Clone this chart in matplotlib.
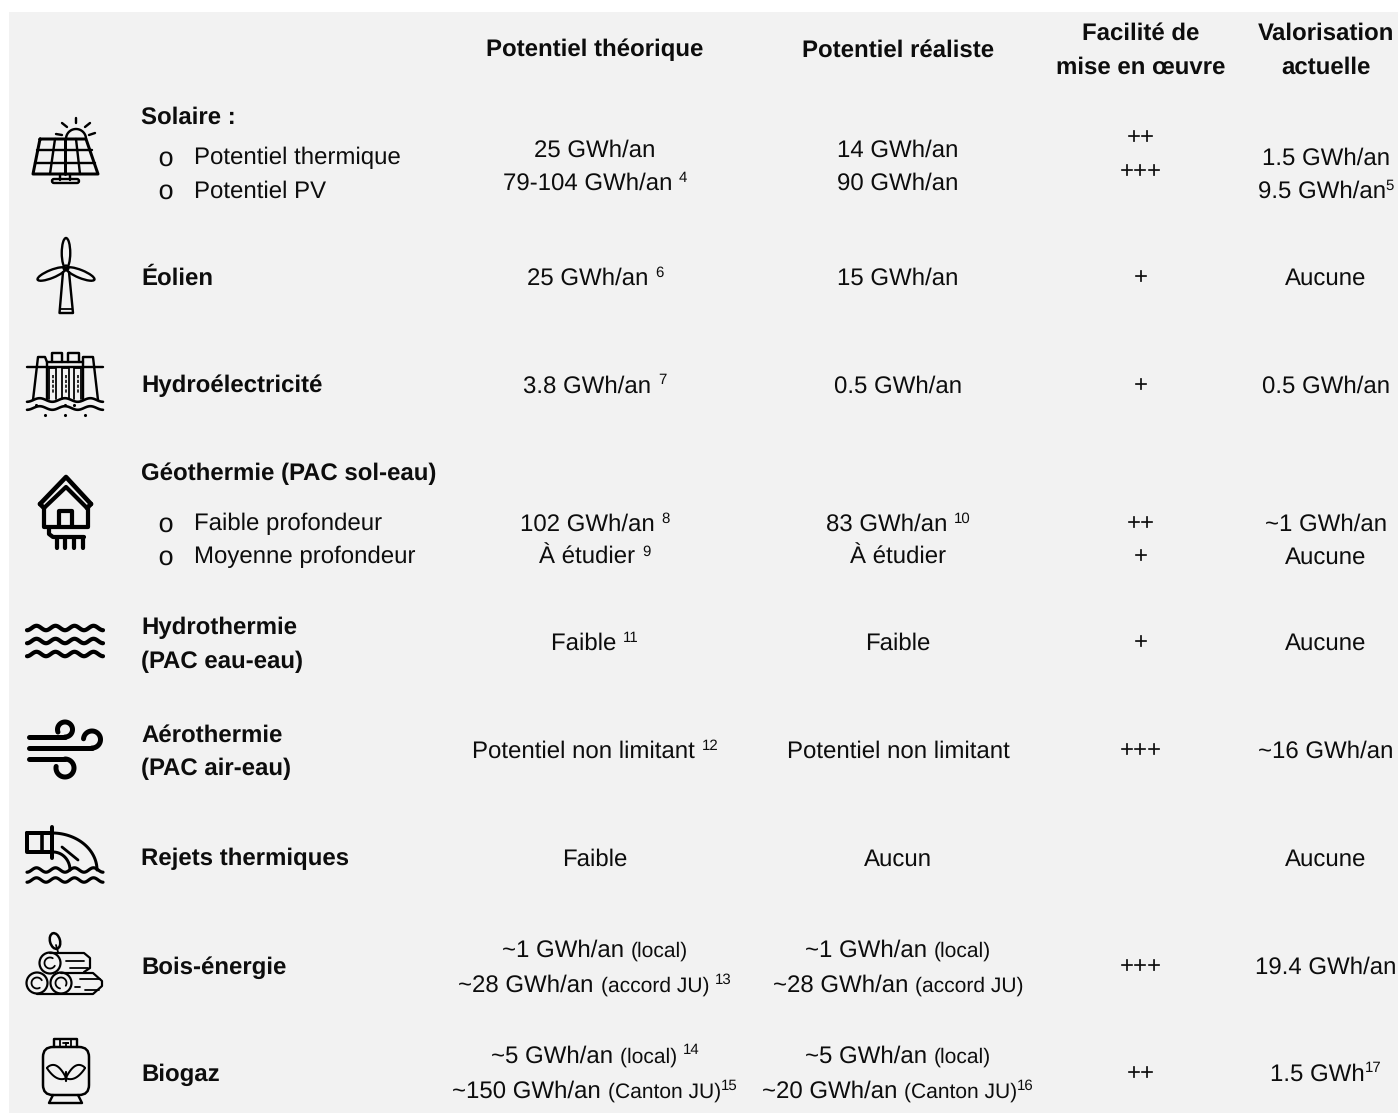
import numpy as np
import matplotlib
matplotlib.use('Agg')
import matplotlib.pyplot as plt
from matplotlib.patches import FancyBboxPatch, Circle, Ellipse

plt.rcParams['font.family'] = ['Liberation Sans', 'DejaVu Sans']
plt.rcParams['text.hinting'] = 'no_hinting'
plt.rcParams['text.hinting_factor'] = 1

W, H = 1399, 1113
BG = '#f2f2f2'
FG = '#0d0d0d'
BODY = 24   # px
SMALL = 21.5
SUP = 15

headers = ['Potentiel théorique', 'Potentiel réaliste',
           'Facilité de\nmise en œuvre', 'Valorisation\nactuelle']
col_x = [595, 898, 1141, 1326]

# name labels: text, y
names = [('Solaire :', 115), ('Éolien', 276), ('Hydroélectricité', 384),
         ('Géothermie (PAC sol-eau)', 472), ('Hydrothermie', 626), ('(PAC eau-eau)', 660),
         ('Aérothermie', 733), ('(PAC air-eau)', 767), ('Rejets thermiques', 857),
         ('Bois-énergie', 965), ('Biogaz', 1072)]
subitems = [('Potentiel thermique', 156), ('Potentiel PV', 189),
            ('Faible profondeur', 522), ('Moyenne profondeur', 555)]

# each cell: y, then pieces of (text, kind)
potentiel_theorique = [
    (148, [('25 GWh/an', 'n')]),
    (181, [('79-104 GWh/an ', 'n'), ('4', 's')]),
    (276, [('25 GWh/an ', 'n'), ('6', 's')]),
    (384, [('3.8 GWh/an ', 'n'), ('7', 's')]),
    (522, [('102 GWh/an ', 'n'), ('8', 's')]),
    (555, [('À étudier ', 'n'), ('9', 's')]),
    (641, [('Faible ', 'n'), ('11', 's')]),
    (749, [('Potentiel non limitant ', 'n'), ('12', 's')]),
    (857, [('Faible', 'n')]),
    (948, [('~1 GWh/an ', 'n'), ('(local)', 'p')]),
    (983, [('~28 GWh/an ', 'n'), ('(accord JU) ', 'p'), ('13', 's')]),
    (1054, [('~5 GWh/an ', 'n'), ('(local) ', 'p'), ('14', 's')]),
    (1089, [('~150 GWh/an ', 'n'), ('(Canton JU)', 'p'), ('15', 's')]),
]
potentiel_realiste = [
    (148, [('14 GWh/an', 'n')]),
    (181, [('90 GWh/an', 'n')]),
    (276, [('15 GWh/an', 'n')]),
    (384, [('0.5 GWh/an', 'n')]),
    (522, [('83 GWh/an ', 'n'), ('10', 's')]),
    (555, [('À étudier', 'n')]),
    (641, [('Faible', 'n')]),
    (749, [('Potentiel non limitant', 'n')]),
    (857, [('Aucun', 'n')]),
    (948, [('~1 GWh/an ', 'n'), ('(local)', 'p')]),
    (983, [('~28 GWh/an ', 'n'), ('(accord JU)', 'p')]),
    (1054, [('~5 GWh/an ', 'n'), ('(local)', 'p')]),
    (1089, [('~20 GWh/an ', 'n'), ('(Canton JU)', 'p'), ('16', 's')]),
]
facilite = [(136, '++'), (170, '+++'), (276, '+'), (384, '+'), (522, '++'), (555, '+'),
            (641, '+'), (749, '+++'), (965, '+++'), (1072, '++')]
valorisation = [
    (156, [('1.5 GWh/an', 'n')]),
    (189, [('9.5 GWh/an', 'n'), ('5', 's')]),
    (276, [('Aucune', 'n')]),
    (384, [('0.5 GWh/an', 'n')]),
    (522, [('~1 GWh/an', 'n')]),
    (555, [('Aucune', 'n')]),
    (641, [('Aucune', 'n')]),
    (749, [('~16 GWh/an', 'n')]),
    (857, [('Aucune', 'n')]),
    (965, [('19.4 GWh/an', 'n')]),
    (1072, [('1.5 GWh', 'n'), ('17', 's')]),
]

fig = plt.figure(figsize=(W / 100, H / 100), dpi=100)
ax = fig.add_axes([0, 0, 1, 1])
ax.set_xlim(0, W)
ax.set_ylim(H, 0)
ax.axis('off')
ax.add_patch(plt.Rectangle((9, 12), 1389, H - 12, color=BG, lw=0))
renderer = fig.canvas.get_renderer()


def px(size):
    return size * 0.72


def width(s, size):
    # the bar keeps trailing spaces in the measure
    a = ax.text(0, 0, s + '|', fontsize=px(size))
    b = ax.text(0, 0, '|', fontsize=px(size))
    w = a.get_window_extent(renderer).width - b.get_window_extent(renderer).width
    a.remove()
    b.remove()
    return w


def cell(cx, y, pieces):
    sizes = {'n': BODY, 'p': SMALL, 's': SUP}
    total = sum(width(t, sizes[k]) for t, k in pieces)
    x = cx - total / 2
    for t, k in pieces:
        dy = -8 if k == 's' else 0
        ax.text(x, y + 8.5 + dy, t, fontsize=px(sizes[k]), color=FG, va='baseline', ha='left')
        x += width(t, sizes[k])


def line(xs, ys, lw=2.4, **kw):
    ax.plot(xs, ys, color='black', lw=lw * 0.72, solid_capstyle='round',
            solid_joinstyle='round', **kw)


def wave(x0, x1, y, n=4, amp=2.2, lw=2.6):
    xs = np.linspace(x0, x1, 120)
    line(xs, y + amp * np.cos((xs - x0) / (x1 - x0) * n * 2 * np.pi), lw=lw)


def curl(cx, cy, r, start, end, lw=5):
    t = np.radians(np.linspace(start, end, 60))
    line(cx + r * np.cos(t), cy + r * np.sin(t), lw=lw)


def ring(cx, cy, r, lw=2.2):
    ax.add_patch(Circle((cx, cy), r, fill=False, ec='black', lw=lw * 0.72))


def icon_solar():
    line([40, 86, 98, 33, 40], [139, 139, 174, 174, 139], lw=3)
    line([37, 92], [150, 150])
    line([35, 95], [163, 163])
    line([55, 50], [139, 174])
    line([65, 65], [139, 174], lw=3)
    line([76, 80], [139, 174])
    curl(76, 139, 10, 180, 360, lw=2.4)
    line([76, 76], [118, 123])
    line([62, 67], [123, 127])
    line([90, 85], [123, 127])
    line([56, 62], [134, 135])
    line([89, 95], [135, 133])
    line([60, 60], [174, 180])
    line([70, 70], [174, 180])
    ax.add_patch(FancyBboxPatch((52, 179), 27, 4, boxstyle='round,pad=0,rounding_size=2',
                                fc='none', ec='black', lw=1.7))


def icon_wind():
    ax.add_patch(Ellipse((66, 253), 8.5, 30, fill=False, ec='black', lw=1.7))
    ax.add_patch(Ellipse((51.5, 274), 30, 8, angle=-22, fill=False, ec='black', lw=1.7))
    ax.add_patch(Ellipse((80.5, 274), 30, 8, angle=22, fill=False, ec='black', lw=1.7))
    ring(66, 268, 2.5)
    line([63, 59.5, 73, 69], [272, 313, 313, 272], lw=2.4)
    line([60, 72], [309, 309], lw=1.8)


def icon_hydro():
    line([27, 103], [367, 367])
    line([33, 38, 45, 47, 47], [400, 357, 357, 362, 400])
    line([98, 93, 83, 83, 83], [400, 357, 357, 362, 400])
    line([47, 83], [362, 362])
    line([52, 52, 62, 62], [362, 353, 353, 362])
    line([68, 68, 79, 79], [362, 353, 353, 362])
    for x in (49, 62, 74):
        line([x, x, x + 7, x + 7], [399, 368, 368, 399], lw=1.8)
        line([x + 3.5, x + 3.5], [375, 393], lw=1.6, ls=(0, (2, 1)))
    wave(27, 103, 400, n=3, amp=1.8)
    wave(27, 103, 408, n=3, amp=1.8)
    ax.scatter([36, 65, 74, 45, 65, 85], [405, 405, 405, 415, 415, 415], s=5, color='black', lw=0)


def icon_house():
    line([40, 66, 91], [504, 477, 504], lw=4.6)
    line([44, 66, 87], [508, 487, 508], lw=4.2)
    line([40, 44], [504, 508], lw=4.6)
    line([91, 87], [504, 508], lw=4.6)
    line([44, 44, 88, 88], [508, 527, 527, 508], lw=4.2)
    line([59, 59, 72, 72], [527, 511, 511, 527], lw=4.2)
    line([49, 49, 53, 84], [527, 534, 537, 537], lw=4.2)
    for x in (57, 65, 74, 83):
        line([x, x], [537, 548], lw=4.2)


def icon_hydrothermie():
    for y in (628, 641, 654):
        wave(27, 103, y, lw=4.2)


def icon_aero():
    line([29, 65], [737, 737], lw=5)
    curl(65, 729.5, 7.5, 90, -200)
    line([29, 92], [748, 748], lw=5)
    curl(92, 739.5, 8.5, 90, -175)
    line([29, 65], [759, 759], lw=5)
    curl(65, 768, 9, -90, 190)


def icon_rejets():
    line([27, 52, 52, 27, 27], [833, 833, 852, 852, 833], lw=4)
    line([42, 42], [833, 852], lw=3.6)
    line([52, 52], [827, 858], lw=4)
    t = np.radians(np.linspace(-90, 0, 40))
    line(52 + 45 * np.cos(t), 870 + 37 * np.sin(t), lw=3)
    line(53 + 17 * np.cos(t), 870 + 18 * np.sin(t), lw=3)
    line([62, 78], [847, 860], lw=2.8)
    wave(27, 103, 870, lw=3.2)
    wave(27, 103, 880, lw=3.2)


def icon_wood():
    ax.add_patch(Ellipse((55, 941), 10, 16, angle=-15, fill=False, ec='black', lw=1.8))
    line([56, 58], [945, 952], lw=1.8)
    ring(50, 963, 10.5)
    curl(50, 963, 5.5, 30, 300, lw=1.8)
    line([50, 84, 90, 90, 84], [953, 953, 958, 968, 972], lw=2.2)
    line([66, 84], [961, 961], lw=1.8)
    line([70, 88], [968, 968], lw=1.8)
    ring(37, 983, 10.5)
    curl(37, 983, 5.5, 60, 330, lw=1.8)
    ring(61, 983, 10.5)
    curl(61, 983, 5.5, 100, 390, lw=1.8)
    line([61, 93, 102, 102, 93, 37], [973, 973, 981, 986, 994, 994], lw=2.2)
    line([75, 80], [987, 987], lw=1.8)
    line([85, 99], [990, 990], lw=1.8)
    line([80, 100], [979, 979], lw=1.8)


def icon_gas():
    ax.add_patch(FancyBboxPatch((43, 1047), 46, 48, boxstyle='round,pad=0,rounding_size=10',
                                fc='none', ec='black', lw=1.8))
    line([54, 54, 77, 77], [1047, 1039, 1039, 1047], lw=2.4)
    line([60, 60], [1039, 1047], lw=1.8)
    line([71, 71], [1039, 1047], lw=1.8)
    line([63, 68, 66, 66], [1043, 1043, 1043, 1047], lw=1.8)
    line([53, 49, 82, 78], [1095, 1103, 1103, 1095], lw=2.4)
    s = np.linspace(0, 1, 30)
    for sgn in (-1, 1):
        xs = 66 + sgn * 19 * s
        up = 8 * np.sin(np.pi * s) ** 0.8
        line(xs, 1078 - 10 * s - up * 0.9, lw=2)
        line(xs, 1078 - 10 * s + up * 0.6, lw=2)
    line([66, 66], [1072, 1081], lw=2.2)


for icon in (icon_solar, icon_wind, icon_hydro, icon_house, icon_hydrothermie,
             icon_aero, icon_rejets, icon_wood, icon_gas):
    icon()

# header
for h, cx in zip(headers, col_x):
    rows = h.split('\n')
    ys = [48] if len(rows) == 1 else [31, 65]
    for r, y in zip(rows, ys):
        ax.text(cx, y + 8.5, r, fontsize=px(BODY), fontweight='bold', color=FG, ha='center', va='baseline')

for t, y in names:
    ax.text(141, y + 8.5, t, fontsize=px(BODY), fontweight='bold', color=FG, ha='left', va='baseline')

for t, y in subitems:
    ax.text(165, y + 10, 'o', fontsize=px(27), family='Liberation Mono', color=FG, ha='center', va='baseline')
    ax.text(194, y + 8.5, t, fontsize=px(BODY), color=FG, ha='left', va='baseline')

for y, pieces in potentiel_theorique:
    cell(col_x[0], y, pieces)
for y, pieces in potentiel_realiste:
    cell(col_x[1], y, pieces)
for y, t in facilite:
    ax.text(col_x[2], y + 8, t, fontsize=px(BODY), color=FG, ha='center', va='baseline')
for y, pieces in valorisation:
    cell(col_x[3], y, pieces)

fig.savefig('out.png', dpi=100)
